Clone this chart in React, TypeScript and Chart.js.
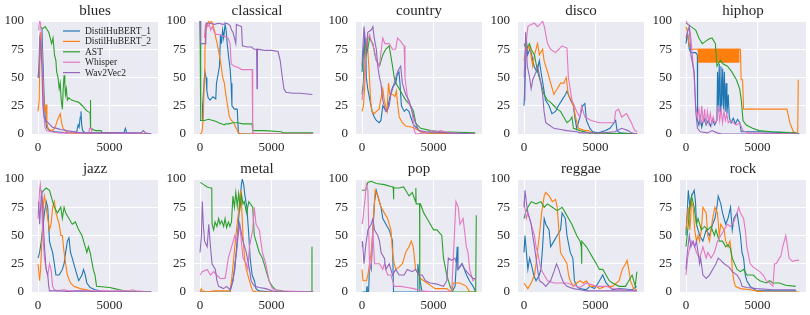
import React, { useEffect, useRef } from "react";
import { Chart, registerables } from "chart.js";
Chart.register(...registerables);

const GENRES = ["blues", "classical", "country", "disco", "hiphop", "jazz", "metal", "pop", "reggae", "rock"];
const MODELS = ["DistilHuBERT_1", "DistilHuBERT_2", "AST", "Whisper", "Wav2Vec2"];
const COLORS = ["#1f77b4", "#ff7f0e", "#2ca02c", "#e377c2", "#9467bd"];
const X_TICKS = [0, 5000];
const Y_TICKS = [0, 25, 50, 75, 100];

// ---- blues ----
const bluesD1 = [[0,50],[100,62],[200,85],[280,90],[350,62],[420,35],[500,15],[600,6],[800,3],[1200,2],[2000,1],[2700,2],[2800,8],[2870,6],[2950,15],[3000,20],[3050,8],[3120,3],[3300,1],[6000,1],[6100,5],[6200,1],[7900,0]];
const bluesD2 = [[0,20],[80,30],[160,90],[220,85],[300,60],[380,40],[430,25],[500,20],[560,26],[620,10],[700,5],[900,3],[1100,4],[1250,8],[1350,12],[1450,15],[1550,18],[1650,10],[1750,5],[1900,3],[2200,1],[3000,0],[7900,0]];
const bluesAST = [[150,95],[300,93],[500,95],[650,92],[750,90],[850,85],[950,80],[1050,85],[1150,70],[1250,65],[1300,55],[1400,50],[1480,40],[1550,45],[1620,30],[1700,22],[1760,40],[1820,52],[1870,45],[1920,35],[1980,40],[2050,30],[2150,32],[2350,30],[2600,29],[2850,28],[3100,25],[3300,22],[3450,20],[3640,19],[3660,30],[3680,5],[4000,3],[4400,3],[4500,1],[7900,0]];
const bluesWhisper = [[0,92],[60,96],[120,100],[180,98],[250,85],[330,50],[400,20],[480,6],[600,3],[900,2],[1500,1],[3550,1],[3600,5],[3720,5],[3760,1],[7900,0]];
const bluesW2V = [[0,50],[60,62],[120,85],[200,80],[270,60],[340,25],[420,15],[550,12],[700,10],[850,8],[1000,6],[1300,5],[1600,4],[2000,3],[2500,2],[3000,1],[7200,1],[7350,3],[7500,1],[7900,0]];

// ---- classical ----
const classicalD1 = [[0,12],[150,12],[180,25],[260,40],[340,55],[420,50],[480,38],[570,32],[700,30],[900,33],[1100,31],[1150,45],[1250,52],[1360,60],[1430,88],[1500,80],[1580,92],[1650,85],[1750,97],[1820,92],[1900,80],[2000,68],[2100,58],[2170,45],[2230,25],[2400,22],[2600,22],[2680,1],[2800,0],[7900,0]];
const classicalD2 = [[0,0],[100,1],[150,3],[230,15],[300,50],[340,72],[400,92],[480,96],[600,100],[700,98],[800,100],[900,97],[1000,92],[1100,85],[1200,80],[1350,70],[1480,60],[1580,50],[1700,45],[1800,35],[1930,25],[2050,15],[2200,12],[2350,10],[2500,6],[2600,3],[2700,1],[2900,0],[7900,0]];
const classicalAST = [[0,100],[40,100],[60,12],[300,12],[600,13],[900,12],[1140,11],[1300,10],[1500,9],[1700,8],[1800,9],[2000,9],[2300,10],[2600,10],[3000,9],[3400,9],[3640,9],[3680,3],[4500,3],[5680,2],[5800,1],[7900,1]];
const classicalWhisper = [[300,85],[380,96],[450,98],[550,95],[650,97],[750,92],[850,95],[1000,90],[1150,88],[1350,88],[1550,87],[1800,86],[1950,85],[2100,80],[2180,62],[2400,60],[2650,59],[2900,57],[3200,57],[3500,57],[3640,57],[3680,1],[4000,0],[7900,0]];
const classicalW2V = [[0,100],[30,80],[200,80],[400,80],[430,98],[700,98],[1000,97],[1300,98],[1600,97],[1900,98],[2100,96],[2200,92],[2300,90],[2400,85],[2500,80],[2540,97],[2700,96],[2900,95],[2960,78],[3300,77],[3600,77],[3750,75],[3950,75],[3980,40],[4010,75],[4500,74],[5000,74],[5450,73],[5600,65],[5750,50],[5860,40],[6000,37],[6500,36],[7000,36],[7850,35]];

// ---- country ----
const countryD1 = [[0,55],[90,70],[180,85],[260,78],[300,50],[400,40],[550,30],[700,20],[850,15],[1000,12],[1200,10],[1320,12],[1450,25],[1600,22],[1750,20],[1900,30],[2050,38],[2150,42],[2360,45],[2450,52],[2580,55],[2650,45],[2750,25],[2950,20],[3100,22],[3280,20],[3400,15],[3600,8],[3850,5],[4100,2],[4500,1],[7900,0]];
const countryD2 = [[0,20],[100,25],[180,40],[260,70],[340,85],[400,75],[500,55],[600,30],[700,20],[850,18],[1000,20],[1200,22],[1300,30],[1450,40],[1550,30],[1750,20],[1850,45],[1950,35],[2150,35],[2300,33],[2400,38],[2500,25],[2600,15],[2820,10],[3050,7],[3500,6],[3850,4],[4100,2],[4500,1],[7900,0]];
const countryAST = [[0,35],[90,45],[180,80],[300,70],[400,75],[530,85],[650,82],[760,80],[900,70],[1000,65],[1220,60],[1450,70],[1650,75],[1900,78],[2000,70],[2130,60],[2250,50],[2360,45],[2600,40],[2820,35],[3050,30],[3400,25],[3600,20],[3750,10],[3850,8],[4100,5],[4800,3],[5500,2],[7900,1]];
const countryWhisper = [[0,30],[100,40],[200,60],[300,80],[530,88],[650,82],[850,75],[1000,65],[1220,60],[1300,70],[1450,85],[1600,80],[1900,80],[2130,75],[2350,75],[2480,85],[2700,82],[2940,78],[3000,50],[3200,30],[3500,20],[3650,3],[3750,0],[4500,1],[4800,3],[5200,2],[5500,3],[6000,1],[7900,0]];
const countryW2V = [[0,60],[70,80],[140,95],[220,85],[300,70],[400,90],[640,92],[760,95],[850,85],[1000,75],[1100,60],[1220,50],[1320,45],[1450,30],[1650,20],[1800,22],[1900,25],[2020,35],[2250,45],[2480,55],[2600,58],[2700,60],[2820,45],[3050,35],[3280,30],[3500,20],[3730,10],[3960,3],[4500,2],[6000,1],[7900,0]];

// ---- disco ----
const discoD1 = [[0,25],[80,50],[160,85],[250,70],[400,75],[500,72],[700,60],[900,55],[1070,65],[1250,50],[1500,30],[1750,25],[1950,18],[2200,20],[2400,25],[2650,30],[2890,35],[3000,38],[3250,30],[3450,25],[3550,15],[3680,5],[3900,15],[4100,25],[4250,27],[4360,12],[4600,5],[4800,2],[5200,1],[5700,3],[6000,5],[6180,8],[6400,12],[6500,3],[6700,1],[7900,0]];
const discoD2 = [[0,65],[70,70],[160,80],[270,75],[380,78],[610,60],[730,70],[950,80],[1070,70],[1300,75],[1400,65],[1640,55],[1860,45],[2090,35],[2320,40],[2550,45],[2770,45],[2950,50],[3090,35],[3300,30],[3450,25],[3600,15],[3800,5],[4250,3],[4500,3],[4800,1],[5200,0],[7900,0]];
const discoAST = [[0,80],[160,75],[380,80],[500,75],[730,70],[950,55],[1180,45],[1400,35],[1640,30],[1860,28],[2090,25],[2320,22],[2550,20],[2770,15],[3000,10],[3200,12],[3350,15],[3450,5],[3900,3],[4500,1],[7900,0]];
const discoWhisper = [[0,50],[100,75],[270,95],[500,97],[730,98],[950,95],[1180,98],[1300,100],[1420,95],[1640,80],[1860,75],[2200,72],[2430,75],[2650,78],[3000,76],[3100,50],[3350,30],[3680,20],[3900,15],[4020,25],[4250,15],[4700,12],[5250,10],[6300,10],[6400,20],[6600,22],[6820,15],[7160,18],[7500,10],[7730,3],[7900,2]];
const discoW2V = [[0,30],[60,60],[110,90],[230,60],[390,50],[500,40],[610,48],[840,55],[950,60],[1180,45],[1300,35],[1400,20],[1520,10],[1750,8],[2090,5],[2550,4],[3000,3],[3680,2],[3900,1],[5500,1],[6360,2],[6820,5],[7270,3],[7500,1],[7900,0]];

// ---- hiphop ----
const hiphopD1 = [[0,80],[100,90],[230,75],[340,72],[680,72],[790,70],[810,12],[900,8],[1000,15],[1100,6],[1250,14],[1400,8],[1550,12],[1700,7],[1850,13],[2000,8],[2160,12],[2200,55],[2260,25],[2320,62],[2380,20],[2440,60],[2500,25],[2560,58],[2620,22],[2680,55],[2740,20],[2800,45],[2860,18],[2950,35],[3020,15],[3150,10],[3300,14],[3450,9],[3600,13],[3750,10],[3860,2],[5000,2],[7600,1],[7900,0]];
const hiphopD2 = [[0,95],[100,90],[200,80],[340,75],[790,75],[3750,75],[3800,75],[3850,48],[3950,48],[4020,22],[5000,22],[6000,22],[7050,22],[7250,10],[7500,2],[7800,0],[7840,48]];
const hiphopBandX = [800, 3750];
const hiphopBandHigh = [75, 75];
const hiphopBandLow = 63;
const hiphopAST = [[0,98],[150,97],[340,95],[680,92],[900,85],[1140,80],[1360,82],[1600,84],[1820,85],[2050,80],[2160,60],[2400,65],[2600,62],[2900,60],[3200,55],[3520,48],[3750,40],[3860,30],[3980,12],[4200,8],[4650,5],[5100,3],[6000,2],[7600,1],[7900,0]];
const hiphopWhisper = [[0,100],[150,97],[230,95],[340,85],[570,50],[680,25],[800,15],[900,22],[1000,8],[1100,25],[1200,10],[1300,22],[1400,8],[1500,20],[1600,10],[1700,18],[1800,8],[1900,15],[2000,10],[2160,12],[2250,25],[2350,12],[2450,22],[2550,10],[2650,20],[2750,12],[2850,18],[2950,10],[3100,12],[3300,10],[3500,8],[3750,10],[3980,3],[4300,1],[7900,0]];
const hiphopW2V = [[0,85],[100,90],[230,95],[340,70],[570,55],[680,20],[800,5],[1000,2],[1500,1],[1820,3],[2160,1],[2500,0],[7900,0]];

// ---- jazz ----
const jazzD1 = [[0,30],[110,35],[230,45],[450,70],[570,80],[680,75],[800,45],[900,40],[1020,35],[1140,25],[1250,15],[1480,15],[1700,20],[1820,25],[1930,35],[2050,45],[2160,48],[2270,35],[2390,30],[2610,20],[2840,10],[3070,15],[3180,20],[3300,15],[3410,8],[3640,4],[3980,2],[4320,1],[5000,0],[7900,0]];
const jazzD2 = [[0,25],[110,10],[180,20],[270,45],[390,80],[450,85],[570,75],[680,65],[800,55],[910,60],[1020,75],[1140,80],[1250,70],[1480,60],[1590,50],[1700,50],[1820,35],[1930,25],[2050,15],[2270,8],[2500,5],[2950,3],[3410,2],[3640,1],[4000,0],[7900,0]];
const jazzAST = [[300,88],[400,90],[570,92],[800,90],[910,85],[1140,75],[1360,70],[1590,75],[1700,65],[1820,75],[1930,70],[2160,65],[2390,60],[2610,62],[2840,55],[3070,50],[3300,40],[3410,35],[3520,40],[3640,35],[3860,20],[3980,15],[4090,5],[5000,4],[5340,3],[5680,2],[6020,1],[6500,0],[7900,0]];
const jazzWhisper = [[0,65],[110,90],[160,95],[230,85],[340,50],[450,30],[570,20],[680,15],[800,25],[910,20],[1020,5],[1140,2],[1360,1],[1820,2],[2100,1],[6400,1],[6600,2],[6800,1],[7900,0]];
const jazzW2V = [[0,70],[50,80],[110,60],[230,85],[270,90],[340,70],[450,40],[570,20],[680,15],[750,5],[800,1],[1500,1],[2000,0.5],[3000,1],[4000,0.5],[7900,0]];

// ---- metal ----
const metalD1 = [[0,0],[500,0],[1000,0],[2090,0],[2200,5],[2430,20],[2590,45],[2730,70],[2890,95],[2950,100],[3050,95],[3140,85],[3270,75],[3410,50],[3500,30],[3640,15],[3800,10],[3910,3],[4100,1],[5000,0],[7900,0]];
const metalD2 = [[0,0],[90,3],[160,1],[500,0],[1000,1],[2090,1],[2200,10],[2430,40],[2590,60],[2770,80],[2840,90],[2910,75],[3000,50],[3110,30],[3230,20],[3340,15],[3450,10],[3570,5],[3680,1],[4000,0],[7900,0]];
const metalAST = [[0,97],[270,95],[500,93],[730,92],[820,92],[840,60],[950,55],[1050,62],[1180,58],[1300,65],[1400,60],[1520,63],[1650,58],[1750,65],[1860,57],[1980,62],[2090,58],[2200,62],[2300,85],[2400,75],[2500,88],[2600,76],[2700,87],[2800,75],[2900,86],[3000,78],[3090,80],[3250,70],[3410,80],[3680,75],[3790,50],[3910,45],[4140,35],[4360,30],[4590,20],[4820,10],[5050,5],[5270,2],[5700,1],[6000,0],[7800,0],[7820,40]];
const metalWhisper = [[0,15],[160,18],[500,20],[730,15],[950,18],[1180,15],[1410,12],[1750,12],[1860,20],[1980,30],[2090,35],[2320,45],[2430,50],[2550,45],[2770,60],[3000,30],[3230,25],[3340,20],[3450,40],[3680,55],[3790,75],[3910,60],[4140,55],[4250,45],[4360,35],[4590,25],[4820,10],[5050,3],[5500,1],[7900,0]];
const metalW2V = [[0,35],[100,50],[160,80],[230,60],[320,45],[500,40],[610,60],[730,40],[840,25],[1070,20],[1180,10],[1300,5],[1640,3],[1860,5],[2090,2],[2320,10],[2430,25],[2550,35],[2660,50],[2770,60],[3000,45],[3230,35],[3450,20],[3570,10],[3800,5],[4140,4],[4590,3],[5050,1],[5500,0],[7900,0]];

// ---- pop ----
const popD1 = [[0,0],[300,0],[350,5],[370,0],[460,0],[530,25],[640,20],[760,55],[870,80],[990,90],[1100,85],[1330,75],[1450,65],[1670,60],[1900,55],[2020,50],[2130,45],[2200,0],[3000,0],[3850,0],[3900,25],[4000,15],[4120,5],[4200,0],[6270,0],[6500,5],[6650,40],[6700,20],[7000,25],[7300,15],[7500,10],[7760,5],[7940,0]];
const popD2 = [[0,20],[70,10],[300,10],[410,15],[640,35],[760,55],[920,90],[1100,85],[1330,75],[1560,70],[1790,65],[1900,60],[2020,55],[2130,35],[2250,25],[2360,20],[2590,22],[2820,25],[3050,35],[3280,40],[3440,45],[3580,40],[3740,20],[3970,15],[4080,12],[4310,10],[4540,8],[4880,5],[5110,3],[5900,3],[6260,0],[6380,8],[6600,8],[6840,8],[7290,5],[7520,0],[7940,0]];
const popAST = [[0,90],[250,90],[410,97],[640,98],[1000,96],[1560,95],[2130,93],[2180,93],[2200,82],[2220,92],[2600,92],[2900,93],[3050,90],[3280,85],[3510,88],[3740,80],[3760,92],[3780,78],[4020,78],[4030,0],[4040,78],[4080,78],[4310,70],[4540,65],[4770,60],[5000,55],[5230,55],[5570,50],[5690,30],[5920,15],[6150,5],[6260,2],[6380,0],[7940,0],[7980,68]];
const popWhisper = [[0,60],[70,65],[230,85],[300,95],[410,90],[530,20],[640,25],[760,55],[870,25],[1220,25],[1450,20],[1560,25],[1670,20],[1790,15],[2020,15],[2250,5],[2700,5],[3180,4],[3620,3],[3850,2],[4080,1],[5000,0],[6260,0],[6450,50],[6560,80],[6720,75],[6840,60],[7060,65],[7290,40],[7400,35],[7520,20],[7750,10],[7940,12]];
const popW2V = [[0,40],[30,45],[140,25],[250,40],[410,55],[640,60],[760,65],[870,55],[1100,50],[1220,45],[1330,35],[1560,30],[1670,20],[1900,25],[2130,15],[2360,20],[2590,15],[2940,15],[3160,20],[3510,18],[3740,20],[3970,15],[4200,15],[4430,10],[4770,8],[5230,7],[5690,5],[5920,10],[6030,30],[6260,28],[6490,30],[6720,20],[6950,25],[7180,20],[7520,15],[7750,12],[7940,12]];

// ---- reggae ----
const reggaeD1 = [[0,35],[70,50],[200,30],[270,20],[390,30],[500,25],[680,15],[840,10],[1070,15],[1180,20],[1300,40],[1410,65],[1520,60],[1750,55],[1860,40],[2090,45],[2320,50],[2550,55],[2660,70],[2890,65],[3000,50],[3230,35],[3410,30],[3520,10],[3680,5],[3910,3],[4360,2],[4590,5],[4930,3],[5270,10],[5500,15],[5730,8],[5950,5],[6180,2],[6640,3],[7550,2],[7880,5]];
const reggaeD2 = [[0,8],[160,5],[270,3],[500,8],[730,15],[840,25],[1070,50],[1230,70],[1410,85],[1520,88],[1750,85],[1980,80],[2200,82],[2320,75],[2430,55],[2550,35],[2770,30],[3000,25],[3110,15],[3230,10],[3450,5],[3680,8],[3910,10],[4140,8],[4360,10],[4590,5],[5050,5],[5270,3],[5730,5],[6180,5],[6640,10],[6860,20],[7090,25],[7200,28],[7320,20],[7430,10],[7660,3],[7880,2]];
const reggaeAST = [[0,65],[100,70],[270,75],[500,80],[840,78],[1180,80],[1410,75],[1640,78],[1980,75],[2320,72],[2660,75],[2890,70],[3110,65],[3340,60],[3680,50],[3910,45],[4000,40],[4020,25],[4040,45],[4360,40],[4590,35],[4820,30],[5050,25],[5270,20],[5500,20],[5730,15],[5950,10],[6180,8],[6640,5],[7090,5],[7320,10],[7550,15],[7770,5],[7880,18]];
const reggaeWhisper = [[0,80],[160,65],[270,70],[500,60],[730,50],[840,40],[950,35],[1180,20],[1410,15],[1640,10],[2090,8],[3000,8],[3450,6],[3910,4],[4360,8],[5050,5],[5730,5],[6180,3],[7090,2],[7880,1]];
const reggaeW2V = [[0,75],[70,90],[160,80],[270,70],[390,65],[500,60],[610,50],[730,40],[840,30],[950,20],[1070,10],[1300,8],[1520,5],[1860,10],[2090,18],[2270,25],[2430,20],[2550,15],[2770,8],[3000,5],[3450,3],[3910,2],[4360,1],[7880,1]];

// ---- rock ----
const rockD1 = [[0,50],[160,90],[270,75],[390,85],[570,90],[660,80],[730,60],[840,55],[950,50],[1180,45],[1410,55],[1640,50],[1860,60],[2020,65],[2160,75],[2250,85],[2430,78],[2550,70],[2770,60],[2930,65],[3110,75],[3230,55],[3340,65],[3570,70],[3680,60],[3800,50],[3910,35],[4020,30],[4140,15],[4250,10],[4480,5],[4700,3],[4930,1],[7700,1]];
const rockD2 = [[0,55],[160,75],[270,55],[390,80],[500,75],[610,55],[730,45],[840,50],[950,45],[1070,55],[1180,75],[1410,70],[1520,50],[1640,45],[1750,55],[1860,65],[2020,75],[2200,70],[2320,50],[2430,60],[2660,55],[2770,45],[2930,40],[3070,45],[3160,35],[3230,20],[3340,10],[3450,5],[3800,3],[4480,2],[4930,1],[5500,0],[7900,0]];
const rockAST = [[0,40],[160,60],[270,75],[390,85],[570,75],[730,60],[840,65],[1070,55],[1300,58],[1520,55],[1750,58],[1980,50],[2090,55],[2320,45],[2550,45],[2770,40],[2930,42],[3110,38],[3230,30],[3390,25],[3570,20],[3800,18],[4020,20],[4250,15],[4480,15],[4700,15],[4930,12],[5160,10],[5610,8],[5840,10],[6070,8],[6520,8],[6970,6],[7660,5]];
const rockWhisper = [[0,15],[110,30],[270,40],[390,45],[610,40],[730,35],[950,30],[1180,40],[1410,30],[1520,35],[1750,30],[1980,35],[2200,45],[2430,50],[2660,55],[2890,60],[3110,58],[3340,62],[3570,70],[3680,75],[3800,70],[4020,65],[4140,55],[4250,40],[4480,25],[4700,22],[4930,20],[5160,18],[5390,15],[5610,10],[5840,8],[6070,5],[6180,25],[6290,25],[6520,30],[6630,32],[6750,40],[6860,45],[6970,50],[7090,40],[7200,30],[7430,27],[7660,28],[7900,28]];
const rockW2V = [[0,20],[90,35],[230,50],[340,40],[500,45],[610,40],[730,45],[840,35],[950,25],[1020,30],[1180,15],[1410,12],[1640,15],[1860,20],[2090,25],[2250,30],[2430,28],[2660,25],[3000,22],[3230,18],[3570,15],[3800,10],[3910,5],[4250,4],[4930,3],[6070,2],[7660,2]];

const SERIES: number[][][][] = [
  [bluesD1, bluesD2, bluesAST, bluesWhisper, bluesW2V],
  [classicalD1, classicalD2, classicalAST, classicalWhisper, classicalW2V],
  [countryD1, countryD2, countryAST, countryWhisper, countryW2V],
  [discoD1, discoD2, discoAST, discoWhisper, discoW2V],
  [hiphopD1, hiphopD2, hiphopAST, hiphopWhisper, hiphopW2V],
  [jazzD1, jazzD2, jazzAST, jazzWhisper, jazzW2V],
  [metalD1, metalD2, metalAST, metalWhisper, metalW2V],
  [popD1, popD2, popAST, popWhisper, popW2V],
  [reggaeD1, reggaeD2, reggaeAST, reggaeWhisper, reggaeW2V],
  [rockD1, rockD2, rockAST, rockWhisper, rockW2V],
];

const FONT = '"Liberation Serif", "DejaVu Serif", serif';
const TEXT = "#262626";
const CW = 162;
const CH = 158;

function Panel({ idx }: { idx: number }) {
  const ref = useRef<HTMLCanvasElement>(null);
  useEffect(() => {
    const canvas = ref.current;
    if (!canvas) return;
    const title = GENRES[idx];
    const datasets: any[] = SERIES[idx].map((pts, i) => ({
      label: MODELS[i],
      data: pts.map(([x, y]) => ({ x, y })),
      borderColor: COLORS[i],
      backgroundColor: COLORS[i],
      borderWidth: 1.1,
      pointRadius: 0,
      tension: 0,
      fill: false,
      order: 10 - i * 2,
    }));
    if (title === "hiphop") {
      datasets.push({
        label: "band",
        data: hiphopBandX.map((x, i) => ({ x, y: hiphopBandHigh[i] })),
        borderColor: COLORS[1],
        backgroundColor: COLORS[1],
        borderWidth: 1,
        pointRadius: 0,
        fill: { value: hiphopBandLow },
        order: 7,
      });
    }
    const bg = {
      id: "bg",
      beforeDraw(c: any) {
        const { ctx, chartArea: a } = c;
        ctx.save();
        ctx.fillStyle = "#eaeaf2";
        ctx.fillRect(a.left, a.top, a.right - a.left, a.bottom - a.top);
        ctx.restore();
      },
    };
    const ttl = {
      id: "ttl",
      afterDraw(c: any) {
        const { ctx, chartArea: a } = c;
        ctx.save();
        ctx.font = `15px ${FONT}`;
        ctx.fillStyle = TEXT;
        ctx.textAlign = "center";
        ctx.textBaseline = "alphabetic";
        ctx.fillText(title, (a.left + a.right) / 2, 14.5);
        ctx.restore();
      },
    };
    const leg = {
      id: "leg",
      afterDatasetsDraw(c: any) {
        if (idx !== 0) return;
        const { ctx } = c;
        ctx.save();
        ctx.font = `9.5px ${FONT}`;
        ctx.textBaseline = "middle";
        ctx.textAlign = "left";
        MODELS.forEach((m, i) => {
          const y = 31 + i * 10.4;
          ctx.strokeStyle = COLORS[i];
          ctx.lineWidth = 1.2;
          ctx.beginPath();
          ctx.moveTo(63, y);
          ctx.lineTo(80, y);
          ctx.stroke();
          ctx.fillStyle = TEXT;
          ctx.fillText(m, 85, y + 0.5);
        });
        ctx.restore();
      },
    };
    const chart = new Chart(canvas, {
      type: "line",
      data: { datasets },
      options: {
        animation: false,
        responsive: false,
        devicePixelRatio: 1,
        layout: { padding: { top: 21, right: 4, left: 0, bottom: 0 } },
        plugins: { legend: { display: false }, tooltip: { enabled: false }, title: { display: false } },
        scales: {
          x: {
            type: "linear",
            min: -420,
            max: 8380,
            afterBuildTicks: (s: any) => { s.ticks = X_TICKS.map((v) => ({ value: v })); },
            afterFit: (s: any) => { s.height = 24; },
            grid: { color: "#ffffff", lineWidth: 1, drawTicks: false },
            border: { display: false },
            ticks: { padding: 6, color: TEXT, font: { family: FONT, size: 13 }, maxRotation: 0, callback: (v: any) => String(v) },
          },
          y: {
            type: "linear",
            min: 0,
            max: 100,
            afterBuildTicks: (s: any) => { s.ticks = Y_TICKS.map((v) => ({ value: v })); },
            afterFit: (s: any) => { s.width = 32; },
            grid: { color: "#ffffff", lineWidth: 1, drawTicks: false },
            border: { display: false },
            ticks: { padding: 8, color: TEXT, font: { family: FONT, size: 13 }, callback: (v: any) => String(v) },
          },
        },
      } as any,
      plugins: [bg, ttl, leg],
    });
    return () => chart.destroy();
  }, [idx]);
  const col = idx % 5;
  const row = Math.floor(idx / 5);
  return (
    <canvas
      ref={ref}
      width={CW}
      height={CH}
      style={{ position: "absolute", left: col * CW, top: row * CH, width: CW, height: CH }}
    />
  );
}

export default function App() {
  return (
    <div style={{ position: "absolute", left: 0, top: 0, width: 810, height: 315, background: "#ffffff", overflow: "hidden" }}>
      {GENRES.map((g, i) => (
        <Panel key={g} idx={i} />
      ))}
    </div>
  );
}
